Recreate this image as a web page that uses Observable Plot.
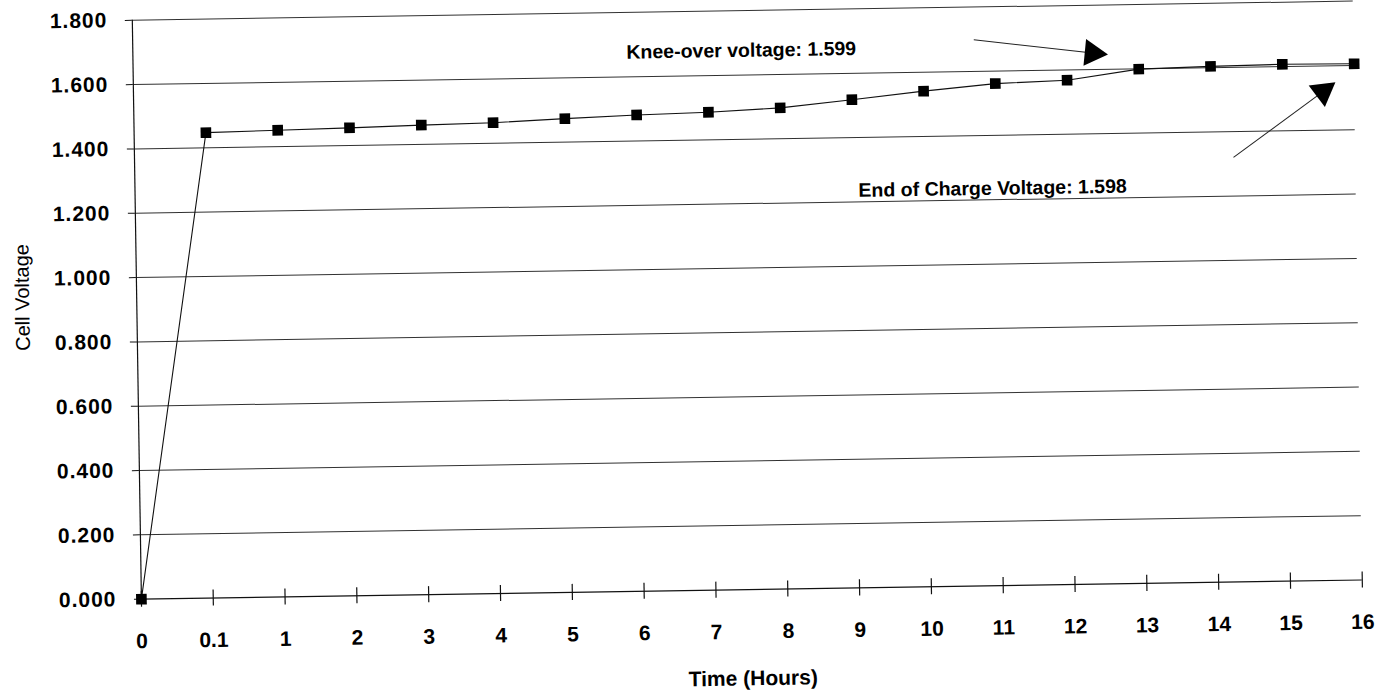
<!DOCTYPE html>
<html><head><meta charset="utf-8">
<script src="https://cdn.jsdelivr.net/npm/d3@7"></script>
<script src="https://cdn.jsdelivr.net/npm/@observablehq/plot@0.6"></script>
<style>
html,body{margin:0;padding:0;background:#fff;overflow:hidden}
#chart svg{display:block;transform:rotate(-0.9deg);transform-origin:50% 50%}
#chart g[aria-label="y-axis tick label"] text{letter-spacing:1px}
#chart g[aria-label="y title"] text{letter-spacing:-1px}
</style></head><body><div id="chart"></div>
<script>
// Categories (x axis tick labels, evenly spaced)
const timeLabels = ["0","0.1","1","2","3","4","5","6","7","8","9","10","11","12","13","14","15","16"];
// Cell voltage readings
const voltages = [0, 1.447, 1.451, 1.455, 1.460, 1.464, 1.473, 1.481, 1.486, 1.496, 1.518, 1.541, 1.561, 1.568, 1.599, 1.604, 1.607, 1.605];
// Y tick values
const yTicks = [0, 0.2, 0.4, 0.6, 0.8, 1.0, 1.2, 1.4, 1.6, 1.8];
// Annotations (x in category-index units, y in volts)
const noteText = ["Knee-over voltage: 1.599", "End of Charge Voltage: 1.598"];
const noteX = [8.47, 11.94];
const noteY = [1.676, 1.235];
// Annotation arrows (tail -> arrowhead)
const arrowX1 = [11.71, 15.30];
const arrowY1 = [1.698, 1.320];
const arrowX2 = [13.36, 16.56];
const arrowY2 = [1.651, 1.520];
const arrowAngle = [96.4, 53.9];

const series = timeLabels.map((t, i) => ({i, label: t, v: voltages[i]}));
const notes = noteText.map((t, k) => ({text: t, x: noteX[k], y: noteY[k]}));
const arrows = arrowX1.map((x, k) => ({x1: x, y1: arrowY1[k], x2: arrowX2[k], y2: arrowY2[k], angle: arrowAngle[k]}));

const font = "'Liberation Sans', Arial, Helvetica, sans-serif";
const plot = Plot.plot({
  width: 1385, height: 691,
  marginLeft: 137, marginRight: 27, marginTop: 11, marginBottom: 101,
  style: {fontFamily: font, background: "#fff", color: "#000"},
  x: {domain: [0, timeLabels.length - 1]},
  y: {domain: [0, 1.8]},
  marks: [
    Plot.gridY(yTicks.slice(1), {stroke: "#1a1a1a", strokeOpacity: 0.9, strokeWidth: 1}),
    Plot.ruleY([0], {stroke: "#111", strokeWidth: 1.2}),
    Plot.ruleX([0], {stroke: "#111", strokeWidth: 1.2}),
    Plot.ruleX(series, {x: "i", y1: d => -0.025, y2: d => 0.025, stroke: "#111", strokeWidth: 1.2}),
    Plot.axisY(yTicks, {tickSize: 7, tickPadding: 18, tickFormat: d3.format(".3f"), fontSize: 21, fontWeight: "bold", label: null, stroke: "#111"}),
    Plot.axisX(series.map(d => d.i), {tickSize: 0, tickPadding: 34, tickFormat: i => timeLabels[i], fontSize: 21, fontWeight: "bold", label: null}),
    Plot.line(series, {x: "i", y: "v", stroke: "#111", strokeWidth: 1.1}),
    Plot.dot(series, {x: "i", y: "v", symbol: "square", fill: "#000", r: 6}),
    Plot.link(arrows, {x1: "x1", y1: "y1", x2: "x2", y2: "y2", stroke: "#222", strokeWidth: 1}),
    Plot.dot(arrows, {x: "x2", y: "y2", symbol: "triangle", fill: "#000", r: 10, rotate: "angle"}),
    Plot.text(notes, {x: "x", y: "y", text: "text", fontSize: 19.5, fontWeight: "bold", lineAnchor: "middle"}),
    Plot.text(["Time (Hours)"], {frameAnchor: "bottom", dy: 89, fontSize: 21, fontWeight: "bold", lineAnchor: "middle"}),
    Plot.text(["Cell Voltage"], {ariaLabel: "y title", frameAnchor: "left", textAnchor: "middle", lineAnchor: "middle", dx: -114, dy: -14, rotate: -90, fontSize: 20, fill: "#000"})
  ]
});
document.getElementById("chart").appendChild(plot);
</script>
</body></html>
